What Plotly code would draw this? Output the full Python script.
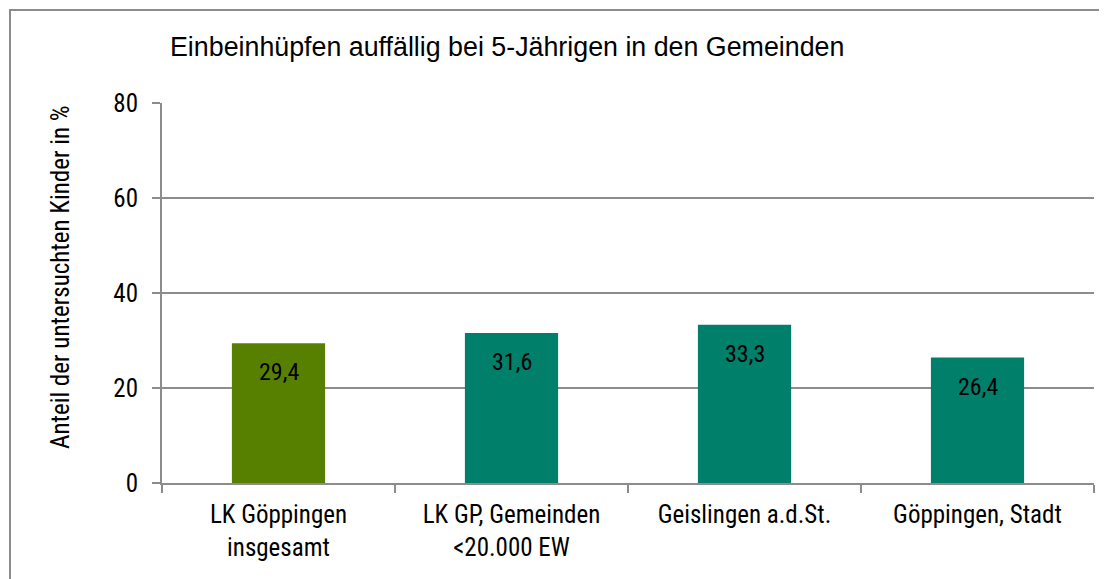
import plotly.graph_objects as go

categories = ["LK Göppingen<br>insgesamt", "LK GP, Gemeinden<br><20.000 EW", "Geislingen a.d.St.", "Göppingen, Stadt"]
values = [29.4, 31.6, 33.3, 26.4]
colors = ["#588000", "#007f6b", "#007f6b", "#007f6b"]
yticks = [0, 20, 40, 60, 80]

FONT = "Liberation Sans Narrow, Roboto Condensed, Arial Narrow, sans-serif"
TFONT = "Liberation Sans, Arial, Helvetica, sans-serif"
GRAY = "#8c8c8c"

# page body has an 8px margin; draw the figure 8px smaller so it lands on the same pixels
OFF = 8
W, H = 1107 - OFF, 579 - OFF
L, R, T, B = 162 - OFF, 13, 103 - OFF, 96
pw, ph = W - L - R, H - T - B

fig = go.Figure()
fig.add_trace(go.Bar(x=categories, y=values, marker=dict(color=colors, line=dict(width=0)),
                     hoverinfo="skip"))

for c, v in zip(categories, values):
    fig.add_annotation(x=c, y=v, text=f"{v:.1f}".replace(".", ","), showarrow=False,
                       yanchor="middle", yshift=-29, font=dict(size=24, color="#000000", family=FONT))

# y axis title
fig.add_annotation(xref="paper", yref="paper", x=(60 - OFF - L) / pw, y=(H - B - (277 - OFF)) / ph,
                   text="Anteil der untersuchten Kinder in %", textangle=-90, showarrow=False,
                   xanchor="center", yanchor="middle", font=dict(size=25, family=FONT, color="#000000"))

# outer chart border
fig.add_shape(type="rect", xref="paper", yref="paper",
              x0=(10 - OFF - L) / pw, x1=(W + 20 - L) / pw,
              y0=-(H + 20 - T - ph) / ph, y1=1 + (T - (10 - OFF)) / ph,
              line=dict(color=GRAY, width=2), layer="below")

fig.update_layout(
    width=W, height=H,
    margin=dict(l=L, r=R, t=T, b=B, autoexpand=False),
    paper_bgcolor="white", plot_bgcolor="white",
    bargap=0.6, showlegend=False,
    separators=",.",
    font=dict(family=FONT, color="#000000", size=25),
    title=dict(text="Einbeinhüpfen auffällig bei 5-Jährigen in den Gemeinden",
               x=(170 - OFF) / W, xanchor="left", y=1 - (47 - OFF) / H, yanchor="middle",
               font=dict(size=26.8, family=TFONT, color="#000000")),
    xaxis=dict(showline=True, linecolor=GRAY, linewidth=2, ticks="outside",
               tickson="boundaries", ticklen=8, tickcolor=GRAY, tickwidth=2,
               tickfont=dict(size=25, family=FONT), showgrid=False, ticklabelstandoff=8),
    yaxis=dict(range=[0, 80], tickvals=yticks, showline=True, linecolor=GRAY, linewidth=2,
               ticks="outside", ticklen=8, tickcolor=GRAY, tickwidth=2,
               showgrid=True, gridcolor=GRAY, gridwidth=2, zeroline=False,
               tickfont=dict(size=25, family=FONT), ticklabelstandoff=9),
)

fig.write_html("out.html")
